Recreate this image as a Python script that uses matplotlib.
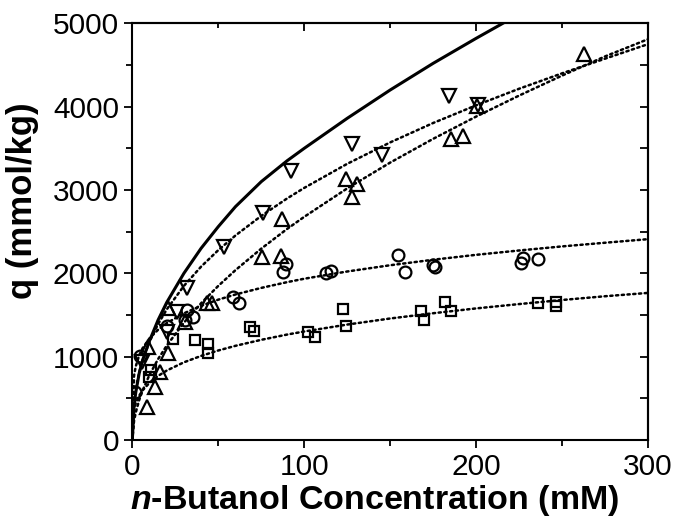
import matplotlib
matplotlib.use("Agg")
import matplotlib.pyplot as plt
from matplotlib.ticker import MultipleLocator

plt.rcParams['font.family'] = ['Liberation Sans', 'DejaVu Sans']
plt.rcParams['mathtext.fontset'] = 'custom'
plt.rcParams['mathtext.it'] = 'Liberation Sans:italic:bold'
plt.rcParams['mathtext.rm'] = 'Liberation Sans:bold'

# ---- data ----
down_x = [5.8, 20, 25.8, 31.6, 53.5, 76.2, 92.1, 127.5, 145.4, 184.1, 201.2]
down_y = [940, 1290, 1540, 1828, 2320, 2728, 3232, 3552, 3420, 4128, 4020]

up_x = [8.4, 13.2, 16.1, 8.9, 21, 20.6, 30.6, 43.3, 46.5, 75.2, 86.3, 86.8,
        124.2, 130.8, 127.5, 185.3, 192.4, 200.2, 262.8]
up_y = [400, 632, 820, 1120, 1048, 1580, 1420, 1640, 1648, 2192, 2212, 2648,
        3128, 3072, 2920, 3608, 3648, 4008, 4628]

circ_x = [1.6, 4.5, 20, 30.6, 31.6, 35.5, 58.7, 62, 87.4, 89.4, 112.6, 115.3,
          154.3, 158.4, 174.7, 176, 225.8, 227.3, 236]
circ_y = [580, 1008, 1368, 1440, 1560, 1480, 1720, 1640, 2012, 2108, 2000, 2024,
          2224, 2012, 2100, 2072, 2128, 2180, 2172]

sq_x = [9.7, 10.9, 23.8, 36.5, 44.2, 44.2, 68.4, 70.8, 102, 106.2, 122.7, 124,
        167.7, 169.8, 181.8, 185.1, 236, 246.7, 246.7]
sq_y = [760, 840, 1208, 1200, 1152, 1040, 1352, 1312, 1300, 1240, 1568, 1368,
        1552, 1440, 1660, 1548, 1640, 1660, 1608]

# fitted curves
curve_x = [0, 1, 2, 4, 6, 10, 15, 20, 30, 40, 50, 60, 75, 90, 100, 125, 150,
           175, 200, 225, 250, 275, 300]
solid_y = [0, 400, 570, 800, 960, 1190, 1440, 1650, 2000, 2300, 2560, 2800,
           3100, 3350, 3500, 3860, 4200, 4520, 4820, 5110, 5390, 5660, 5920]
fit_down_y = [0, 460, 611, 811, 957, 1180, 1392, 1566, 1849, 2080, 2278, 2454,
              2689, 2898, 3025, 3314, 3571, 3804, 4016, 4215, 4400, 4576, 4750]
fit_up_y = [0, 228, 330, 479, 595, 782, 971, 1132, 1407, 1641, 1849, 2038,
            2296, 2532, 2678, 3019, 3329, 3614, 3881, 4133, 4373, 4603, 4810]
fit_circ_y = [0, 770, 884, 1016, 1102, 1220, 1323, 1402, 1520, 1610, 1684, 1746,
              1825, 1894, 1935, 2022, 2097, 2163, 2222, 2274, 2323, 2367, 2410]
fit_sq_y = [0, 362, 439, 532, 596, 687, 769, 833, 932, 1009, 1074, 1130,
            1202, 1265, 1302, 1385, 1458, 1521, 1579, 1631, 1680, 1725, 1765]

xticks = [0, 100, 200, 300]
yticks = [0, 1000, 2000, 3000, 4000, 5000]

# ---- figure ----
fig = plt.figure(figsize=(6.73, 5.18), dpi=100)
ax = fig.add_axes([0.1966, 0.1506, 0.7664, 0.8044])

dot = dict(color='black', lw=1.8, linestyle=(0, (0.9, 1.4)), dash_capstyle='round')
ax.plot(curve_x, fit_down_y, **dot)
ax.plot(curve_x, fit_up_y, **dot)
ax.plot(curve_x, fit_circ_y, **dot)
ax.plot(curve_x, fit_sq_y, **dot)
ax.plot(curve_x, solid_y, color='black', lw=2.2, solid_capstyle='butt')

mk = dict(linestyle='none', markerfacecolor='none', markeredgecolor='black',
          markeredgewidth=1.6)
ax.plot(sq_x, sq_y, marker='s', markersize=7.5, **mk)
ax.plot(circ_x, circ_y, marker='o', markersize=8.5, **mk)
ax.plot(up_x, up_y, marker='^', markersize=10.5, **mk)
ax.plot(down_x, down_y, marker='v', markersize=10.5, **mk)

ax.set_xlim(0, 300)
ax.set_ylim(0, 5000)
ax.set_xticks(xticks)
ax.set_yticks(yticks)
ax.xaxis.set_minor_locator(MultipleLocator(50))
ax.yaxis.set_minor_locator(MultipleLocator(500))

for s in ax.spines.values():
    s.set_linewidth(1.5)

ax.tick_params(which='major', direction='out', length=5.5, width=1.3,
               labelsize=21.5, pad=4)
ax.tick_params(which='minor', direction='out', length=4, width=1.3)

secx = ax.secondary_xaxis('top')
secx.set_xticks(xticks)
secx.xaxis.set_minor_locator(MultipleLocator(50))
secx.tick_params(which='major', direction='in', length=5.5, width=1.3, labeltop=False)
secx.tick_params(which='minor', direction='in', length=3.5, width=1.3)
secx.spines['top'].set_linewidth(1.5)

secy = ax.secondary_yaxis('right')
secy.set_yticks(yticks)
secy.yaxis.set_minor_locator(MultipleLocator(500))
secy.tick_params(which='major', direction='in', length=5.5, width=1.3, labelright=False)
secy.tick_params(which='minor', direction='in', length=5.5, width=1.3)
secy.spines['right'].set_linewidth(1.5)

ax.set_xlabel(r'$\mathit{n}$-Butanol Concentration (mM)', fontsize=24.5,
              fontweight='bold', labelpad=1)
ax.set_ylabel('q (mmol/kg)', fontsize=25, fontweight='bold', labelpad=10)
ax.xaxis.label.set_x(0.47)
ax.yaxis.label.set_y(0.575)

fig.savefig('out.png', dpi=100)
